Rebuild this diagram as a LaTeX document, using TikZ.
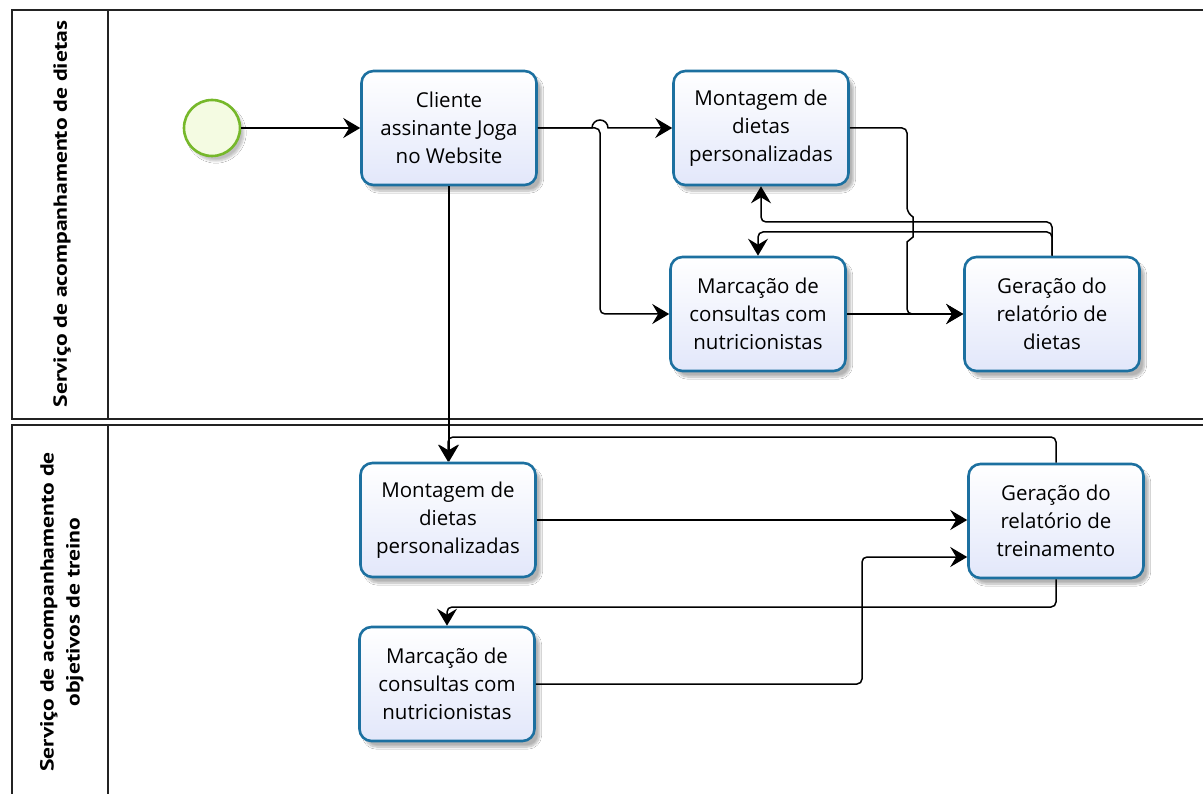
\documentclass[tikz,border=0pt]{standalone}
\usepackage{fontspec}
\setmainfont{Open Sans}
\newfontfamily\lanefont{PT Sans}
\usetikzlibrary{arrows.meta,shadows.blur}

\definecolor{taskedge}{RGB}{28,112,160}
\definecolor{taskfill}{RGB}{226,231,250}
\definecolor{startedge}{RGB}{118,184,42}
\definecolor{startfill}{RGB}{244,251,226}
\definecolor{laneline}{RGB}{35,35,35}

\tikzset{
  task/.style={rounded corners=12pt, draw=taskedge, line width=2.6pt,
    top color=white, bottom color=taskfill,
    minimum width=175pt, minimum height=114pt, inner sep=2pt,
    align=center, font=\fontsize{20.5}{28}\selectfont,
    blur shadow={shadow xshift=5pt, shadow yshift=-6pt, shadow blur steps=8, shadow opacity=30}},
  startev/.style={circle, draw=startedge, line width=2.6pt, fill=startfill,
    minimum size=56pt, inner sep=0pt,
    blur shadow={shadow xshift=4pt, shadow yshift=-5pt, shadow blur steps=6, shadow opacity=25}},
  flow/.style={draw=black, line width=1.5pt, rounded corners=5pt,
    -{Stealth[length=17pt, width=20pt, inset=6pt]}},
  lanebox/.style={draw=laneline, line width=1.6pt},
  lanetitle/.style={rotate=90, align=center, inner sep=0pt,
    font=\lanefont\bfseries\fontsize{19}{28}\selectfont}
}

\begin{document}
\begin{tikzpicture}[x=1pt, y=-1pt]
  \useasboundingbox (0,0) rectangle (1203,794);
  \clip (0,0) rectangle (1203,794);
  \fill[white] (0,0) rectangle (1203,794);

  % pool lanes
  \draw[lanebox] (12,10) rectangle (1220,419);
  \draw[lanebox] (108,10) -- (108,419);
  \draw[lanebox] (12,425) rectangle (1220,820);
  \draw[lanebox] (108,425) -- (108,820);

  \node[lanetitle] (lane1) at (62,214)
    {\scalebox{1.24}[1]{Serviço de acompanhamento de dietas}};
  \node[lanetitle] (lane2) at (61,612)
    {\scalebox{1.24}[1]{\begin{tabular}{@{}c@{}}Serviço de acompanhamento de\\[-2pt]objetivos de treino\end{tabular}}};

  % events and tasks
  \node[startev] (start) at (212,128) {};
  \node[task] (t1) at (449,128) {Cliente\\assinante Joga\\no Website};
  \node[task] (t2) at (761,128) {Montagem de\\dietas\\personalizadas};
  \node[task] (t3) at (758,314) {Marcação de\\consultas com\\nutricionistas};
  \node[task] (t4) at (1052,314) {Geração do\\relatório de\\dietas};
  \node[task] (t5) at (448,520) {Montagem de\\dietas\\personalizadas};
  \node[task] (t6) at (447,684) {Marcação de\\consultas com\\nutricionistas};
  \node[task] (t7) at (1056,521) {Geração do\\relatório de\\treinamento};

  % sequence flows, upper lane
  \draw[flow] (start) -- (t1);
  \draw[flow, sharp corners] (t1.east) -- (592,128)
     arc[start angle=180, end angle=0, radius=8pt] -- (t2.west);
  \draw[flow] (t1.east) -- (600,128) -- (600,314) -- (t3.west);
  \draw[flow] (t1.south) -- (t1.south |- t5.north);
  \draw[flow] (t2.east) -- (907,128) -- (907,212)
     {[sharp corners] -- (913,217) -- (913,237) -- (907,242)}
     -- (907,314) -- (t4.west);
  \draw[flow] (t4.north) -- (1052,222) -- (761,222) -- (t2.south);
  \draw[flow] (t4.north) -- (1052,232) -- (758,232) -- (t3.north);
  \draw[flow] (t3.east) -- (t4.west);

  % sequence flows, lower lane
  \draw[flow] (t5.east) -- (t5.east -| t7.west);
  \draw[flow] (t6.east) -- (862,684) -- (862,557) -- ([yshift=-36pt]t7.west);
  \draw[flow] (t7.north) -- (1056,437) -- (448,437) -- (t5.north);
  \draw[flow] (t7.south) -- (1056,607) -- (447,607) -- (t6.north);
\end{tikzpicture}
\end{document}
